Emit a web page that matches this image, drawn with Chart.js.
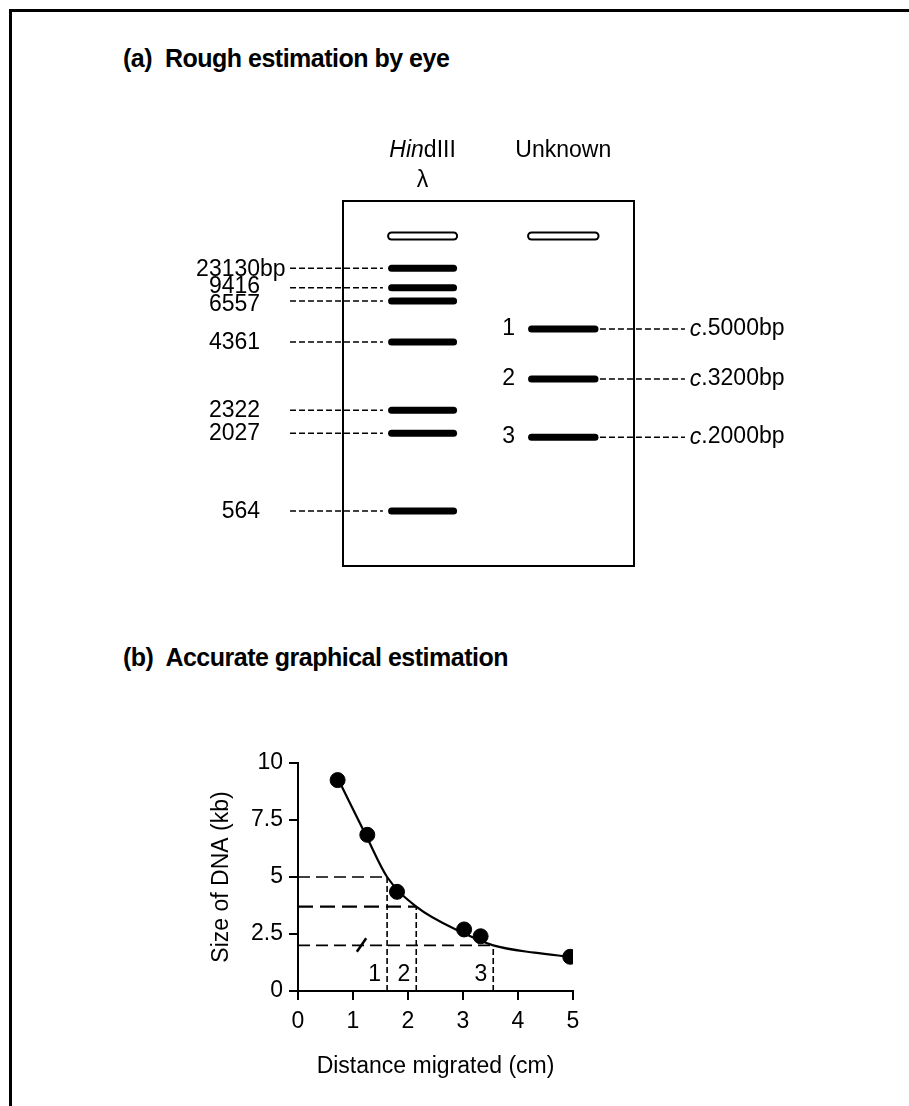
<!DOCTYPE html>
<html>
<head>
<meta charset="utf-8">
<script src="https://cdn.jsdelivr.net/npm/chart.js@4.4.0/dist/chart.umd.min.js"></script>
<style>
  html, body { margin: 0; padding: 0; background: #fff; }
  #page { position: relative; width: 909px; height: 1106px; overflow: hidden; font-family: "Liberation Sans", Arial, sans-serif; }
  #frame { position: absolute; left: 9px; top: 9px; width: 920px; height: 1120px; border-top: 3px solid #000; border-left: 3px solid #000; }
  .heading { position: absolute; left: 123px; font-weight: bold; font-size: 25px; line-height: 25px; letter-spacing: -0.5px; white-space: nowrap; }
  #gelChart { position: absolute; left: 0; top: 0; }
  #sizeChart { position: absolute; left: 0; top: 640px; }
</style>
</head>
<body>
<div id="page">
  <div id="frame"></div>
  <div class="heading" style="top:46px">(a)&nbsp; Rough estimation by eye</div>
  <div class="heading" style="top:645px">(b)&nbsp; Accurate graphical estimation</div>
  <canvas id="gelChart" width="909" height="620"></canvas>
  <canvas id="sizeChart" width="909" height="466"></canvas>
</div>
<script>
// (a) gel, band positions in % of gel length from the top edge
var ladderLabels = ['23130', '9416', '6557', '4361', '2322', '2027', '564'];
var ladderPos = [18.4, 23.8, 27.4, 38.6, 57.3, 63.6, 84.9];
var unknownLabels = ['1', '2', '3'];
var unknownPos = [35.1, 48.8, 64.7];
var unknownEstimates = ['5000', '3200', '2000'];
var wellPos = 9.6;

// (b) standard curve: distance migrated (cm) vs size (kb)
var ladderDist = [0.72, 1.26, 1.8, 3.02, 3.32, 4.95];
var ladderKb = [9.25, 6.85, 4.35, 2.7, 2.4, 1.5];
var curveDist = [0.75, 1.25, 1.62, 2.15, 3.0, 3.55, 4.3, 4.95];
var curveKb = [9.2, 6.75, 5.0, 3.7, 2.55, 2.0, 1.68, 1.5];
var unknownDist = [1.62, 2.15, 3.55];
var unknownKb = [5.0, 3.7, 2.0];
var breakDist = [1.07, 1.24];
var breakKb = [1.72, 2.31];
var xTicks = [0, 1, 2, 3, 4, 5];
var yTicks = [0, 2.5, 5, 7.5, 10];

var FAMILY = '"Liberation Sans", Arial, sans-serif';
Chart.defaults.font.family = FAMILY;
Chart.defaults.color = '#000';

var LADDER_LANE = [16.7, 38.0];
var UNKNOWN_LANE = [64.8, 86.6];
// small nudges so the two close labels (9416 / 6557) don't overlap
var labelNudge = { '9416': -2.5, '6557': 2.5 };

function seg(x0, x1, y) {
    return [{ x: x0, y: y }, { x: x1, y: y }];
}

var gelSets = [];
[LADDER_LANE, UNKNOWN_LANE].forEach(function (lane) {
    gelSets.push({ data: seg(lane[0], lane[1], wellPos), borderColor: '#fff', borderWidth: 5, borderCapStyle: 'round', order: 0 });
    gelSets.push({ data: seg(lane[0], lane[1], wellPos), borderColor: '#000', borderWidth: 9, borderCapStyle: 'round', order: 1 });
});
ladderPos.forEach(function (p) {
    gelSets.push({ data: seg(LADDER_LANE[0], LADDER_LANE[1], p), borderColor: '#000', borderWidth: 7, borderCapStyle: 'round', order: 2 });
    gelSets.push({ data: seg(-18.2, 13.7, p), borderColor: '#000', borderWidth: 1.5, borderDash: [6, 3], order: 2 });
});
unknownPos.forEach(function (p) {
    gelSets.push({ data: seg(UNKNOWN_LANE[0], UNKNOWN_LANE[1], p), borderColor: '#000', borderWidth: 7, borderCapStyle: 'round', order: 2 });
    gelSets.push({ data: seg(88.3, 117.5, p), borderColor: '#000', borderWidth: 1.5, borderDash: [6, 3], order: 2 });
});
gelSets.forEach(function (ds) {
    ds.pointRadius = 0;
    ds.clip = false;
    ds.fill = false;
    ds.showLine = true;
});

// draws runs of text (with their own fonts) centred on cx
function drawRuns(ctx, runs, cx, baseY) {
    var total = 0;
    runs.forEach(function (r) { ctx.font = r.font; total += ctx.measureText(r.text).width; });
    var x = cx - total / 2;
    ctx.textAlign = 'left';
    runs.forEach(function (r) {
        ctx.font = r.font;
        ctx.fillText(r.text, x, baseY);
        x += ctx.measureText(r.text).width;
    });
}

var gelText = {
    id: 'gelText',
    afterDatasetsDraw: function (chart) {
        var ctx = chart.ctx, a = chart.chartArea, xs = chart.scales.x, ys = chart.scales.y;
        var plain = '23px ' + FAMILY, ital = 'italic 23px ' + FAMILY;
        ctx.save();
        ctx.strokeStyle = '#000';
        ctx.lineWidth = 2;
        ctx.strokeRect(a.left, a.top, a.right - a.left, a.bottom - a.top);
        ctx.fillStyle = '#000';
        ctx.font = plain;
        ctx.textBaseline = 'middle';
        ladderLabels.forEach(function (t, i) {
            var py = ys.getPixelForValue(ladderPos[i]) + 1 + (labelNudge[t] || 0);
            var px = xs.getPixelForValue(-28.5);
            ctx.textAlign = 'right';
            ctx.fillText(t, px, py);
            if (i === 0) {
                ctx.textAlign = 'left';
                ctx.fillText('bp', px, py);
            }
        });
        unknownLabels.forEach(function (t, i) {
            var py = ys.getPixelForValue(unknownPos[i]);
            ctx.font = plain;
            ctx.textAlign = 'right';
            ctx.fillText(t, xs.getPixelForValue(59.1), py);
            var px = xs.getPixelForValue(119.2);
            ctx.textAlign = 'left';
            ctx.font = ital;
            ctx.fillText('c', px, py);
            px += ctx.measureText('c').width;
            ctx.font = plain;
            ctx.fillText('.' + unknownEstimates[i] + 'bp', px, py);
        });
        ctx.textBaseline = 'alphabetic';
        var ladderMid = xs.getPixelForValue((LADDER_LANE[0] + LADDER_LANE[1]) / 2);
        var unknownMid = xs.getPixelForValue((UNKNOWN_LANE[0] + UNKNOWN_LANE[1]) / 2);
        drawRuns(ctx, [{ text: 'Hin', font: ital }, { text: 'dIII', font: plain }], ladderMid, ys.getPixelForValue(-12.05));
        drawRuns(ctx, [{ text: '\u03bb', font: plain }], ladderMid, ys.getPixelForValue(-3.8));
        drawRuns(ctx, [{ text: 'Unknown', font: plain }], unknownMid, ys.getPixelForValue(-12.05));
        ctx.restore();
    }
};

new Chart(document.getElementById('gelChart'), {
    type: 'scatter',
    data: { datasets: gelSets },
    options: {
        responsive: false,
        animation: false,
        layout: { padding: { left: 343, top: 201, right: 275, bottom: 54 } },
        plugins: { legend: { display: false }, tooltip: { enabled: false } },
        scales: {
            x: { type: 'linear', min: 0, max: 100, display: false },
            y: { type: 'linear', min: 0, max: 100, reverse: true, display: false }
        }
    },
    plugins: [gelText]
});

// ---- (b) graph ----
function pairs(xs, ys) {
    return xs.map(function (v, i) { return { x: v, y: ys[i] }; });
}

var sizeSets = [
    { data: pairs(ladderDist, ladderKb), pointRadius: 7.5, pointBackgroundColor: '#000', pointBorderColor: '#000', showLine: false, order: 0 },
    { data: pairs(curveDist, curveKb), borderColor: '#000', borderWidth: 2.2, pointRadius: 0, showLine: true, cubicInterpolationMode: 'monotone', order: 1 },
    { data: pairs(breakDist, breakKb), borderColor: '#000', borderWidth: 2.5, pointRadius: 0, showLine: true, order: 1 }
];
unknownDist.forEach(function (d, i) {
    sizeSets.push({
        data: [{ x: 0, y: unknownKb[i] }, { x: d, y: unknownKb[i] }],
        borderColor: '#000', borderWidth: i === 1 ? 2.4 : 1.6, borderDash: i === 1 ? [15, 7] : [12, 6],
        pointRadius: 0, showLine: true, order: 2
    });
    sizeSets.push({
        data: [{ x: d, y: 0 }, { x: d, y: unknownKb[i] }],
        borderColor: '#000', borderWidth: 1.6, borderDash: [6, 3],
        pointRadius: 0, showLine: true, order: 2
    });
});

var laneNumbers = {
    id: 'laneNumbers',
    afterDatasetsDraw: function (chart) {
        var ctx = chart.ctx, xs = chart.scales.x, ys = chart.scales.y;
        ctx.save();
        ctx.fillStyle = '#000';
        ctx.font = '23px ' + FAMILY;
        ctx.textAlign = 'right';
        ctx.textBaseline = 'middle';
        unknownLabels.forEach(function (t, i) {
            ctx.fillText(t, xs.getPixelForValue(unknownDist[i]) - 6, ys.getPixelForValue(0.7));
        });
        ctx.restore();
    }
};

new Chart(document.getElementById('sizeChart'), {
    type: 'scatter',
    data: { datasets: sizeSets },
    options: {
        responsive: false,
        animation: false,
        layout: { padding: { left: 208, right: 336, top: 123, bottom: 25 } },
        plugins: { legend: { display: false }, tooltip: { enabled: false } },
        scales: {
            x: {
                type: 'linear', min: 0, max: 5,
                afterFit: function (s) { s.height = 90; },
                afterBuildTicks: function (s) { s.ticks = xTicks.map(function (v) { return { value: v }; }); },
                grid: { drawOnChartArea: false, tickLength: 9, lineWidth: 2, color: '#000' },
                border: { color: '#000', width: 2 },
                ticks: { padding: 8, maxRotation: 0, font: { size: 23 }, color: '#000', callback: function (v) { return String(v); } },
                title: { display: true, text: 'Distance migrated (cm)', font: { size: 23 }, color: '#000', padding: { top: 0, bottom: 1 } }
            },
            y: {
                type: 'linear', min: 0, max: 10,
                afterFit: function (s) { s.width = 90; },
                afterBuildTicks: function (s) { s.ticks = yTicks.map(function (v) { return { value: v }; }); },
                grid: { drawOnChartArea: false, tickLength: 9, lineWidth: 2, color: '#000' },
                border: { color: '#000', width: 2 },
                ticks: { padding: 6, font: { size: 23 }, color: '#000', callback: function (v) { return String(v); } },
                title: { display: true, text: 'Size of DNA (kb)', font: { size: 23 }, color: '#000', padding: { top: 0, bottom: 0 } }
            }
        }
    },
    plugins: [laneNumbers]
});
</script>
</body>
</html>
